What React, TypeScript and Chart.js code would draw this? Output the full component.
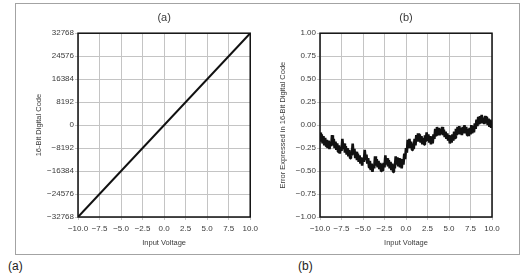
import React, { useEffect, useRef } from "react";
import { Chart, registerables } from "chart.js";

Chart.register(...registerables);

const FONT = "'Liberation Sans', Arial, Helvetica, sans-serif";
const TEXT = "#3a3a3a";
const GRID = "#c4c4c4";

const titleA = "(a)";
const titleB = "(b)";
const captionA = "(a)";
const captionB = "(b)";
const xAxisTitle = "Input Voltage";
const yTitleA = "16-Bit Digital Code";
const yTitleB = "Error Expressed in 16-Bit Digital Code";

const voltageTicks = [-10, -7.5, -5, -2.5, 0, 2.5, 5, 7.5, 10];
const codeTicks = [-32768, -24576, -16384, -8192, 0, 8192, 16384, 24576, 32768];
const errorTicks = [-1, -0.75, -0.5, -0.25, 0, 0.25, 0.5, 0.75, 1];

const voltageEnds = [-10, 10];
const codeEnds = [-32768, 32768];

const errorStartVoltage = -10;
const errorStepVoltage = 0.1;
const errorValues = [
  -0.08, -0.18, -0.1, -0.2, -0.12, -0.22, -0.14, -0.23, -0.16, -0.25,
  -0.17, -0.26, -0.18, -0.23, -0.11, -0.22, -0.15, -0.25, -0.18, -0.27,
  -0.2, -0.29, -0.22, -0.31, -0.24, -0.28, -0.15, -0.26, -0.2, -0.3,
  -0.23, -0.32, -0.25, -0.34, -0.27, -0.36, -0.29, -0.33, -0.2, -0.32,
  -0.26, -0.36, -0.29, -0.38, -0.31, -0.4, -0.33, -0.42, -0.35, -0.44,
  -0.36, -0.4, -0.27, -0.38, -0.32, -0.42, -0.36, -0.46, -0.39, -0.49,
  -0.42, -0.51, -0.43, -0.47, -0.34, -0.44, -0.37, -0.46, -0.39, -0.48,
  -0.41, -0.5, -0.42, -0.5, -0.41, -0.46, -0.33, -0.43, -0.36, -0.45,
  -0.38, -0.47, -0.4, -0.49, -0.42, -0.51, -0.43, -0.47, -0.34, -0.43,
  -0.35, -0.45, -0.36, -0.46, -0.38, -0.47, -0.37, -0.43, -0.31, -0.37,
  -0.25, -0.3, -0.16, -0.25, -0.15, -0.25, -0.18, -0.27, -0.2, -0.26,
  -0.15, -0.22, -0.11, -0.18, -0.09, -0.18, -0.1, -0.19, -0.12, -0.21,
  -0.14, -0.21, -0.11, -0.18, -0.08, -0.17, -0.1, -0.19, -0.12, -0.21,
  -0.13, -0.2, -0.1, -0.15, -0.04, -0.11, -0.02, -0.1, -0.03, -0.11,
  -0.04, -0.1, -0.02, -0.11, -0.05, -0.13, -0.07, -0.15, -0.09, -0.17,
  -0.11, -0.2, -0.12, -0.19, -0.1, -0.17, -0.07, -0.14, -0.04, -0.11,
  -0.02, -0.1, -0.01, -0.1, -0.03, -0.11, -0.02, -0.09, 0.0, -0.09,
  -0.02, -0.11, -0.04, -0.12, -0.03, -0.1, 0.0, -0.09, -0.01, -0.08,
  0.02, -0.04, 0.06, -0.01, 0.09, 0.02, 0.1, 0.03, 0.11, 0.02,
  0.08, 0.01, 0.1, 0.02, 0.09, 0.0, 0.07, -0.02, 0.06, -0.03,
  0.05,
];

const minus = (s: string) => s.replace("-", "\u2212");

const framePlugin = {
  id: "frame",
  afterDatasetsDraw(chart: any) {
    const { ctx, chartArea } = chart;
    const { left, top, right, bottom } = chartArea;
    ctx.save();
    ctx.strokeStyle = "#111";
    ctx.lineWidth = 1.5;
    ctx.strokeRect(left, top, right - left, bottom - top);
    ctx.restore();
  },
};

function makeOptions(p: {
  title: string;
  yTitle: string;
  yTicks: number[];
  yMin: number;
  yMax: number;
  yDecimals: number;
  padLeft: number;
  padRight: number;
  yWidth: number;
}) {
  return {
    responsive: false,
    animation: false as const,
    devicePixelRatio: 1,
    layout: { padding: { left: p.padLeft, right: p.padRight, top: 0, bottom: 0 } },
    plugins: {
      legend: { display: false },
      tooltip: { enabled: false },
      title: {
        display: true,
        text: p.title,
        fullSize: false,
        color: TEXT,
        font: { family: FONT, size: 11, weight: "normal" as const },
        padding: { top: 11, bottom: 9 },
      },
    },
    scales: {
      x: {
        type: "linear" as const,
        min: voltageTicks[0],
        max: voltageTicks[voltageTicks.length - 1],
        afterBuildTicks: (s: any) => {
          s.ticks = voltageTicks.map((v) => ({ value: v }));
        },
        afterFit: (s: any) => {
          s.height = 33;
        },
        border: { display: false },
        grid: { color: GRID, lineWidth: 1, tickLength: 3, drawTicks: true },
        ticks: {
          color: TEXT,
          font: { family: FONT, size: 8 },
          padding: 4,
          autoSkip: false,
          maxRotation: 0,
          callback: (v: any) => minus(Number(v).toFixed(1)),
        },
        title: {
          display: true,
          text: xAxisTitle,
          color: TEXT,
          font: { family: FONT, size: 7.5 },
          padding: { top: 0, bottom: 2.5 },
        },
      },
      y: {
        type: "linear" as const,
        min: p.yMin,
        max: p.yMax,
        afterBuildTicks: (s: any) => {
          s.ticks = p.yTicks.map((v) => ({ value: v }));
        },
        afterFit: (s: any) => {
          s.width = p.yWidth;
        },
        border: { display: false },
        grid: { color: GRID, lineWidth: 1, tickLength: 3, drawTicks: true },
        ticks: {
          color: TEXT,
          font: { family: FONT, size: 8 },
          padding: 1,
          autoSkip: false,
          callback: (v: any) => minus(Number(v).toFixed(p.yDecimals)),
        },
        title: {
          display: true,
          text: p.yTitle,
          color: TEXT,
          font: { family: FONT, size: 7.5 },
          padding: { top: 1, bottom: 0 },
        },
      },
    },
  };
}

function ChartCanvas({ config, style, width, height }: any) {
  const ref = useRef<HTMLCanvasElement | null>(null);
  useEffect(() => {
    if (!ref.current) return;
    const chart = new Chart(ref.current, config);
    return () => chart.destroy();
  }, []);
  return <canvas ref={ref} width={width} height={height} style={{ position: "absolute", width, height, ...style }} />;
}

export default function App() {
  const configA = {
    type: "line" as const,
    data: {
      datasets: [
        {
          data: voltageEnds.map((v, i) => ({ x: v, y: codeEnds[i] })),
          borderColor: "#111",
          borderWidth: 2,
          pointRadius: 0,
          tension: 0,
        },
      ],
    },
    options: makeOptions({
      title: titleA,
      yTitle: yTitleA,
      yTicks: codeTicks,
      yMin: codeTicks[0],
      yMax: codeTicks[codeTicks.length - 1],
      yDecimals: 0,
      padLeft: 33,
      padRight: 11,
      yWidth: 45,
    }),
    plugins: [framePlugin],
  };

  const configB = {
    type: "line" as const,
    data: {
      datasets: [
        {
          data: errorValues.map((e, i) => ({ x: errorStartVoltage + i * errorStepVoltage, y: e })),
          borderColor: "#111",
          borderWidth: 2.6,
          borderJoinStyle: "bevel" as const,
          pointRadius: 0,
          tension: 0,
        },
      ],
    },
    options: makeOptions({
      title: titleB,
      yTitle: yTitleB,
      yTicks: errorTicks,
      yMin: errorTicks[0],
      yMax: errorTicks[errorTicks.length - 1],
      yDecimals: 2,
      padLeft: 15,
      padRight: 33,
      yWidth: 43,
    }),
    plugins: [framePlugin],
  };

  return (
    <div
      style={{
        position: "fixed",
        left: 0,
        top: 0,
        width: 525,
        height: 276,
        background: "#fff",
        overflow: "hidden",
        fontFamily: FONT,
      }}
    >
      <div
        style={{
          position: "absolute",
          left: 15,
          top: 3,
          width: 503,
          height: 250,
          border: "1px solid #a3a3a3",
        }}
      />
      <ChartCanvas config={configA} width={262} height={250} style={{ left: 0, top: 0 }} />
      <ChartCanvas config={configB} width={263} height={250} style={{ left: 262, top: 0 }} />
      <div style={{ position: "absolute", left: 8, top: 259, fontSize: 12, color: "#222", lineHeight: "14px" }}>
        {captionA}
      </div>
      <div style={{ position: "absolute", left: 298, top: 259, fontSize: 12, color: "#222", lineHeight: "14px" }}>
        {captionB}
      </div>
    </div>
  );
}
